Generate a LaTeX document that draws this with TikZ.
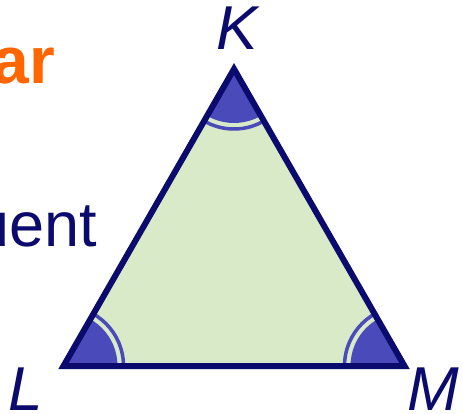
\documentclass[tikz,border=0pt]{standalone}
\usepackage{fontspec}
\setmainfont{Liberation Sans}
\definecolor{navy}{HTML}{0B0B6E}
\definecolor{wedge}{HTML}{4A4ABB}
\definecolor{tri}{HTML}{D9EAC8}
\definecolor{orng}{HTML}{FF6600}
\begin{document}
\begin{tikzpicture}[x=1pt,y=-1pt,
  vlabel/.style={text=navy,inner sep=0pt,font=\fontsize{62}{62}\selectfont\itshape},
  bodytext/.style={text=navy,inner sep=0pt,font=\fontsize{63}{63}\selectfont},
  titletext/.style={text=orng,inner sep=0pt,font=\fontsize{66}{66}\selectfont\bfseries},
  edge/.style={draw=navy,line width=6pt,line join=miter}]
\useasboundingbox (0,0) rectangle (463,414);
\fill[white] (0,0) rectangle (463,414);
\coordinate (k) at (234,69);
\coordinate (l) at (63.5,366);
\coordinate (m) at (404.5,366);
\fill[tri] (k) -- (l) -- (m) -- cycle;
\begin{scope}
  \clip (k) -- (l) -- (m) -- cycle;
  \foreach \v in {k,l,m}{
    \fill[wedge] (\v) circle[radius=54];
    \draw[wedge,line width=3.5pt] (\v) circle[radius=60];
  }
\end{scope}
\draw[edge] (k) -- (l) -- (m) -- cycle;
\node[vlabel,anchor=base] (kl) at (237,50) {K};
\node[vlabel,anchor=base] (ll) at (26,410) {L};
\node[vlabel,anchor=base west] (ml) at (407,410) {M};
\node[titletext,anchor=base east] (t1) at (55,84) {ar};
\node[bodytext,anchor=base east] (t2) at (97,247) {uent};
\end{tikzpicture}
\end{document}
